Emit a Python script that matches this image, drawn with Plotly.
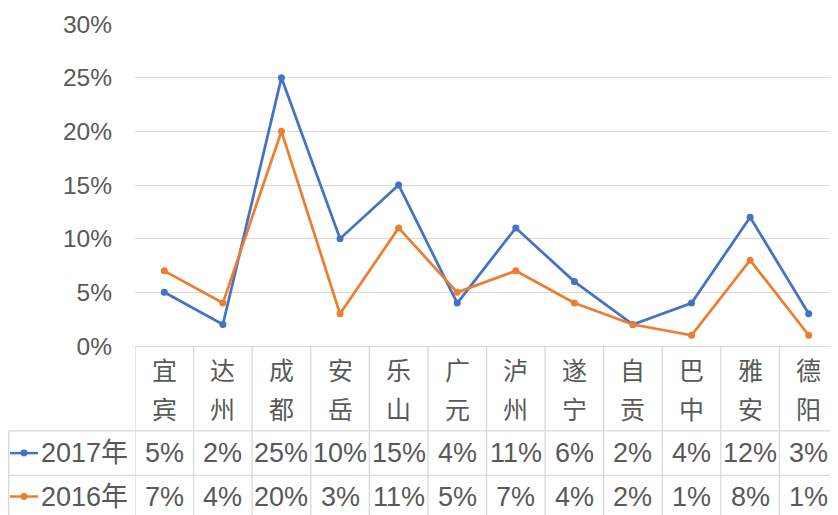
import plotly.graph_objects as go

categories = ["宜宾", "达州", "成都", "安岳", "乐山", "广元", "泸州", "遂宁", "自贡", "巴中", "雅安", "德阳"]
series_names = ["2017年", "2016年"]
values_2017 = [0.05, 0.02, 0.25, 0.10, 0.15, 0.04, 0.11, 0.06, 0.02, 0.04, 0.12, 0.03]
values_2016 = [0.07, 0.04, 0.20, 0.03, 0.11, 0.05, 0.07, 0.04, 0.02, 0.01, 0.08, 0.01]
y_ticks = [0, 0.05, 0.10, 0.15, 0.20, 0.25, 0.30]

colors = ["#4472C4", "#ED7D31"]
series_values = [values_2017, values_2016]

# page body has an 8px default margin; compensate so the window matches
OFF = 8
WIN_W, WIN_H = 838, 515
W, H = WIN_W - OFF, WIN_H - OFF
# plot area in window pixels: x 135..838, y 23.5..346
L = 135 - OFF
R = 0
T = 23.5 - OFF
B = WIN_H - 346
plot_h = H - T - B
plot_w = W - L - R
text_color = "#595959"
grid_color = "#D9D9D9"
font_fam = "Liberation Sans, Noto Sans CJK SC, sans-serif"
cjk_fam = "Noto Sans CJK SC, sans-serif"


def py(p):
    # window pixel row -> paper y
    return (346 - p) / plot_h


def px(p):
    # window pixel col -> paper x
    return (p - 135) / plot_w


fig = go.Figure()
for name, vals, c in zip(series_names, series_values, colors):
    fig.add_trace(go.Scatter(
        x=categories, y=vals, name=name, mode="lines+markers",
        line=dict(color=c, width=2.75), marker=dict(color=c, size=7),
        showlegend=False, hoverinfo="skip"))

shapes = []
annotations = []

# table geometry (window pixels)
cat_bottom = 431
row_bottoms = [475.5, 515]
row_tops = [cat_bottom, 475.5]
table_left = 8.7

n = len(categories)
for i in range(n + 1):
    shapes.append(dict(type="line", xref="x", yref="paper",
                       x0=i - 0.5, x1=i - 0.5, y0=py(346), y1=py(520),
                       line=dict(color=grid_color, width=1.3)))
shapes.append(dict(type="line", xref="paper", yref="paper",
                   x0=px(table_left), x1=px(table_left), y0=py(cat_bottom), y1=py(520),
                   line=dict(color=grid_color, width=1.3)))
for yb in [cat_bottom, row_bottoms[0]]:
    shapes.append(dict(type="line", xref="paper", yref="paper",
                       x0=px(table_left), x1=1, y0=py(yb), y1=py(yb),
                       line=dict(color=grid_color, width=1.3)))

# category labels (stacked characters)
for c in categories:
    for k, ch in enumerate(c):
        annotations.append(dict(x=c, xref="x", y=py(369 + 39 * k), yref="paper",
                                text=ch, showarrow=False,
                                font=dict(family=cjk_fam, size=25, color=text_color),
                                xanchor="center", yanchor="middle"))

# data rows
for r, (name, vals, c) in enumerate(zip(series_names, series_values, colors)):
    yc = (row_tops[r] + row_bottoms[r]) / 2 + (0 if r == 0 else 1.5)
    for cat, v in zip(categories, vals):
        annotations.append(dict(x=cat, xref="x", y=py(yc), yref="paper",
                                text=f"{round(v * 100)}%", showarrow=False,
                                font=dict(family=font_fam, size=27, color=text_color),
                                xanchor="center", yanchor="middle"))
    shapes.append(dict(type="line", xref="paper", yref="paper",
                       x0=px(10), x1=px(38), y0=py(yc), y1=py(yc),
                       line=dict(color=c, width=2.5)))
    shapes.append(dict(type="circle", xref="paper", yref="paper",
                       x0=px(20.5), x1=px(27.5), y0=py(yc - 3.5), y1=py(yc + 3.5),
                       fillcolor=c, line=dict(color=c, width=0)))
    annotations.append(dict(x=px(39), xref="paper", y=py(yc), yref="paper",
                            text=name, showarrow=False,
                            font=dict(family=font_fam, size=27, color=text_color),
                            xanchor="left", yanchor="middle"))

fig.update_layout(
    width=W, height=H,
    margin=dict(l=L, r=R, t=T, b=B, pad=0),
    paper_bgcolor="white", plot_bgcolor="white",
    shapes=shapes, annotations=annotations,
    xaxis=dict(type="category", categoryarray=categories, range=[-0.5, n - 0.5],
               showticklabels=False, showgrid=False, zeroline=False,
               showline=True, linecolor=grid_color, linewidth=1.3, ticks=""),
    yaxis=dict(range=[0, 0.30], tickvals=y_ticks, tickformat=".0%",
               showgrid=True, gridcolor=grid_color, gridwidth=1,
               zeroline=False, showline=False, ticks="",
               ticklabelstandoff=22,
               tickfont=dict(family=font_fam, size=24.5, color=text_color)),
)

fig.write_html("out.html")
